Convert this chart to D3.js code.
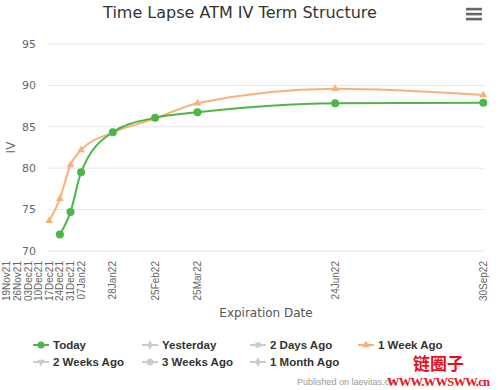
<!DOCTYPE html>
<html><head><meta charset="utf-8">
<script src="https://cdn.jsdelivr.net/npm/d3@7"></script>
<style>
body{margin:0;background:#fff;}
svg{display:block;font-family:"DejaVu Sans",sans-serif;}
</style></head>
<body><svg id="c" width="499" height="390"></svg>
<script>
const expiries = ["2021-12-17","2021-12-24","2021-12-31","2022-01-07","2022-01-28","2022-02-25","2022-03-25","2022-06-24","2022-09-30"];
const todayDates = ["2021-12-24","2021-12-31","2022-01-07","2022-01-28","2022-02-25","2022-03-25","2022-06-24","2022-09-30"];
const todayIV = [72.0, 74.7, 79.5, 84.35, 86.1, 86.75, 87.85, 87.9];
const weekAgoDates = ["2021-12-17","2021-12-24","2021-12-31","2022-01-07","2022-01-28","2022-02-25","2022-03-25","2022-06-24","2022-09-30"];
const weekAgoIV = [73.65, 76.3, 80.4, 82.2, 84.3, 86.0, 87.85, 89.6, 88.85];
const tickDates = ["2021-11-19","2021-11-26","2021-12-03","2021-12-10","2021-12-17","2021-12-24","2021-12-31","2022-01-07","2022-01-28","2022-02-25","2022-03-25","2022-06-24","2022-09-30"];
const yTicks = [70, 75, 80, 85, 90, 95];
const legendNames = ["Today","Yesterday","2 Days Ago","1 Week Ago","2 Weeks Ago","3 Weeks Ago","1 Month Ago"];
const legendSymbols = ["circle","diamond","square","triangle","triangle-down","circle","diamond"];
const legendVisible = [true,false,false,true,false,false,false];

const P = d => new Date(d + "T00:00:00Z");
const svg = d3.select("#c");
const green = "#4cb648", orange = "#f7b27a", gray = "#cccccc";
const colors = [green, gray, gray, orange, gray, gray, gray];

const x = d3.scaleUtc().domain([P("2021-12-17"), P("2022-09-30")]).range([49.3, 483.3]);
const y = d3.scaleLinear().domain([70, 95]).range([251, 44]);
const left = 48, right = 484;

// title
svg.append("text").attr("x", 240).attr("y", 18).attr("text-anchor","middle")
  .attr("font-size", 16).attr("fill","#333").text("Time Lapse ATM IV Term Structure");

// menu icon
[9,14,19].forEach(v => svg.append("rect").attr("x",466).attr("y",v-1.2).attr("width",16).attr("height",2.6).attr("fill","#666"));

// grid
const yAxis = svg.append("g");
yTicks.forEach(t => {
  yAxis.append("line").attr("x1", left).attr("x2", right).attr("y1", y(t)).attr("y2", y(t))
    .attr("stroke", "#e6e6e6").attr("stroke-width", 1);
  yAxis.append("text").attr("x", 36).attr("y", y(t)).attr("dy","0.35em").attr("text-anchor","end")
    .attr("font-size", 11).attr("fill","#666").text(t);
});
svg.append("text").attr("transform", `translate(11,${(y(70)+y(95))/2}) rotate(-90)`)
  .attr("text-anchor","middle").attr("dy","0.35em").attr("font-size",12).attr("fill","#666").text("IV");

// x tick labels
const fmt = d3.utcFormat("%d%b%y");
tickDates.forEach(d => {
  const px = x(P(d));
  svg.append("text").attr("transform", `translate(${px},261) rotate(-90)`)
    .attr("text-anchor","end").attr("dy","0.35em").attr("font-size", 10).attr("font-family","Liberation Sans, sans-serif")
    .attr("fill","#666").text(fmt(P(d)));
});
svg.append("text").attr("x", (left+right)/2).attr("y", 317).attr("text-anchor","middle")
  .attr("font-size", 12).attr("fill","#555").text("Expiration Date");

// series
const line = d3.line().x(d => x(d[0])).y(d => y(d[1])).curve(d3.curveMonotoneX);
const wk = weekAgoDates.map((d,i) => [P(d), weekAgoIV[i]]);
const td = todayDates.map((d,i) => [P(d), todayIV[i]]);
svg.append("path").attr("d", line(wk)).attr("fill","none").attr("stroke", orange).attr("stroke-width", 2);
svg.append("g").selectAll("path").data(wk).join("path")
  .attr("transform", d => `translate(${x(d[0])},${y(d[1])})`)
  .attr("d", d3.symbol(d3.symbolTriangle, 26)).attr("fill", orange);
svg.append("path").attr("d", line(td)).attr("fill","none").attr("stroke", green).attr("stroke-width", 2);
svg.append("g").selectAll("circle").data(td).join("circle")
  .attr("cx", d => x(d[0])).attr("cy", d => y(d[1])).attr("r", 4).attr("fill", green);

// legend
const symMap = {circle: d3.symbolCircle, diamond: d3.symbolDiamond, square: d3.symbolSquare, triangle: d3.symbolTriangle, "triangle-down": d3.symbolTriangle};
const colX = [33, 142, 250, 358], rowY = [345, 362];
legendNames.forEach((n,i) => {
  const cx = colX[i % 4], cy = rowY[Math.floor(i / 4)];
  const g = svg.append("g").attr("transform", `translate(${cx},${cy})`);
  g.append("line").attr("x1",0).attr("x2",16).attr("stroke", colors[i]).attr("stroke-width", 2);
  g.append("path").attr("transform", `translate(8,0)` + (legendSymbols[i]==="triangle-down" ? " rotate(180)" : ""))
    .attr("d", d3.symbol(symMap[legendSymbols[i]], legendSymbols[i]==="circle" ? 40 : 26)).attr("fill", colors[i]);
  g.append("text").attr("x", 20).attr("dy","0.35em").attr("font-size", 11.5).attr("font-weight","bold")
    .attr("font-family","Liberation Sans, sans-serif").attr("fill", "#333").text(n);
});

// credits
svg.append("text").attr("x", 297).attr("y", 385).attr("font-size", 9).attr("fill","#999")
  .attr("font-family","Liberation Sans, sans-serif").text("Published on laevitas.ch");
// overlay watermark
svg.append("text").attr("x", 413).attr("y", 370).attr("font-size", 17).attr("font-weight","bold")
  .attr("font-family","Noto Sans CJK SC").attr("fill","#e8101a").text("链圈子");
svg.append("text").attr("x", 387).attr("y", 386).attr("font-size", 12.5).attr("font-weight","bold")
  .attr("font-family","Liberation Serif, serif").attr("fill","#e8101a").attr("textLength", 103).text("WWW.WWSWW.cn");
</script></body></html>
